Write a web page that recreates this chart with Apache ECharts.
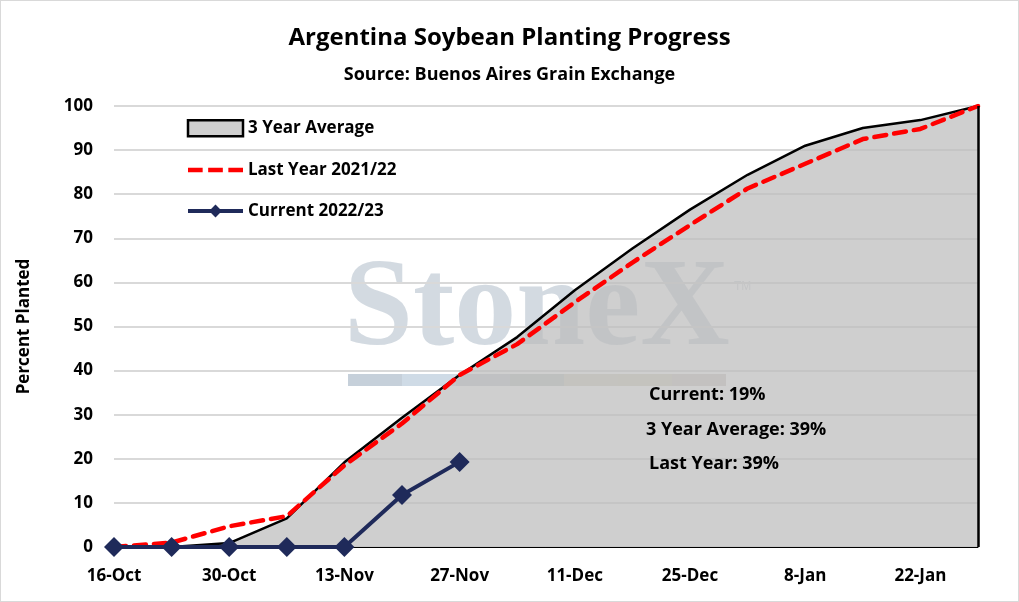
<!DOCTYPE html>
<html>
<head>
<meta charset="utf-8">
<script src="https://cdn.jsdelivr.net/npm/echarts@6/dist/echarts.min.js"></script>
<style>
  html, body { margin: 0; padding: 0; background: #fff; }
  #chart { width: 1017px; height: 600px; border: 1px solid #d9d9d9; }
</style>
</head>
<body>
<div id="chart"></div>
<script>
// weekly dates, labels every two weeks
var weeks = ['16-Oct', '23-Oct', '30-Oct', '6-Nov', '13-Nov', '20-Nov', '27-Nov', '4-Dec',
  '11-Dec', '18-Dec', '25-Dec', '1-Jan', '8-Jan', '15-Jan', '22-Jan', '29-Jan'];
var avg3yr = [0, 0, 0.9, 6.5, 19.2, 29.3, 39, 47.6, 58.2, 67.7, 76.5, 84.4, 91, 95, 96.8, 100];
var lastYear = [0, 1, 4.7, 7, 18.5, 28, 39, 46, 55.5, 64.5, 73, 81.3, 86.9, 92.5, 94.8, 100];
var current = [0, 0, 0, 0, 0, 11.8, 19.3];
var notes = ['Current: 19%', '3 Year Average: 39%', 'Last Year: 39%'];

var font = '"Open Sans", "Noto Sans", sans-serif';
var navy = '#1f2a5a';
// three red dashes for the legend
var dashIcon = 'path://M0,0h3.2v1h-3.2z M4.4,0h3.2v1h-3.2z M8.8,0h3.2v1h-3.2z';

var chart = echarts.init(document.getElementById('chart'));
chart.setOption({
  animation: false,
  textStyle: { fontFamily: font },
  title: {
    text: 'Argentina Soybean Planting Progress',
    subtext: 'Source: Buenos Aires Grain Exchange',
    left: 'center',
    top: 20,
    itemGap: 16,
    textStyle: { fontSize: 24, fontWeight: 'bold', color: '#000', fontFamily: font },
    subtextStyle: { fontSize: 18, fontWeight: 'bold', color: '#000', fontFamily: font }
  },
  legend: {
    orient: 'vertical',
    left: 180,
    top: 113,
    itemGap: 24,
    itemWidth: 55,
    itemHeight: 16,
    textStyle: { fontSize: 17, fontWeight: 'bold', color: '#000', fontFamily: font },
    data: [
      { name: '3 Year Average', icon: 'rect',
        itemStyle: { color: '#d0d0d0', borderColor: '#000', borderWidth: 2.5 } },
      { name: 'Last Year 2021/22', icon: dashIcon },
      { name: 'Current 2022/23', lineStyle: { width: 4 } }
    ]
  },
  grid: { left: 113, right: 40, top: 105, bottom: 54 },
  xAxis: {
    type: 'category',
    data: weeks,
    boundaryGap: false,
    axisLine: { lineStyle: { color: '#000', width: 1 } },
    axisTick: { show: false },
    axisLabel: {
      interval: 1, fontSize: 17, fontWeight: 'bold', color: '#000', margin: 21
    }
  },
  yAxis: {
    type: 'value',
    min: 0,
    max: 100,
    interval: 10,
    name: 'Percent Planted',
    nameLocation: 'middle',
    nameGap: 81,
    nameTextStyle: { fontSize: 17, fontWeight: 'bold', color: '#000' },
    axisLine: { show: false },
    axisTick: { show: false },
    axisLabel: { fontSize: 17, fontWeight: 'bold', color: '#000', margin: 21 },
    splitLine: { lineStyle: { color: '#d9d9d9', width: 2 } }
  },
  graphic: [
    { type: 'text', left: 343, top: 249, z: 0,
      style: { text: 'StoneX', font: 'bold 124px "Liberation Serif", "DejaVu Serif", serif',
        fill: '#cbd3dc', opacity: 0.85 } },
    { type: 'text', left: 733, top: 280, z: 0,
      style: { text: 'TM', font: '12px sans-serif', fill: '#d5d9de' } },
    { type: 'group', left: 347, top: 373, z: 0, children: [
      { type: 'rect', shape: { x: 0, y: 0, width: 54, height: 12 }, style: { fill: '#c6d0da' } },
      { type: 'rect', shape: { x: 54, y: 0, width: 54, height: 12 }, style: { fill: '#cfdbe6' } },
      { type: 'rect', shape: { x: 108, y: 0, width: 54, height: 12 }, style: { fill: '#c9ced4' } },
      { type: 'rect', shape: { x: 162, y: 0, width: 54, height: 12 }, style: { fill: '#c3c9c6' } },
      { type: 'rect', shape: { x: 216, y: 0, width: 54, height: 12 }, style: { fill: '#d6d4c6' } },
      { type: 'rect', shape: { x: 270, y: 0, width: 54, height: 12 }, style: { fill: '#d8d2c2' } },
      { type: 'rect', shape: { x: 324, y: 0, width: 54, height: 12 }, style: { fill: '#d4cbc8' } }
    ] },
    { type: 'text', left: 648, top: 385, z: 10,
      style: { text: notes[0], font: 'bold 18px ' + font, fill: '#000' } },
    { type: 'text', left: 645, top: 420, z: 10,
      style: { text: notes[1], font: 'bold 18px ' + font, fill: '#000' } },
    { type: 'text', left: 648, top: 454, z: 10,
      style: { text: notes[2], font: 'bold 18px ' + font, fill: '#000' } }
  ],
  series: [
    {
      name: '3 Year Average',
      type: 'line',
      data: avg3yr,
      symbol: 'none',
      z: 1,
      lineStyle: { color: '#000', width: 2.5 },
      itemStyle: { color: '#d0d0d0', borderColor: '#000' },
      areaStyle: { color: '#bdbdbd', opacity: 0.72 },
      markLine: {
        silent: true,
        symbol: 'none',
        label: { show: false },
        lineStyle: { color: '#000', width: 2.5, type: 'solid' },
        data: [[{ coord: ['29-Jan', 0] }, { coord: ['29-Jan', 100] }]]
      }
    },
    {
      name: 'Last Year 2021/22',
      type: 'line',
      data: lastYear,
      symbol: 'none',
      z: 3,
      lineStyle: { color: '#ff0000', width: 4.5, type: [12, 8], cap: 'round' },
      itemStyle: { color: '#ff0000' }
    },
    {
      name: 'Current 2022/23',
      type: 'line',
      data: current,
      symbol: 'diamond',
      symbolSize: 20,
      z: 4,
      lineStyle: { color: navy, width: 4 },
      itemStyle: { color: navy }
    }
  ]
});
</script>
</body>
</html>
